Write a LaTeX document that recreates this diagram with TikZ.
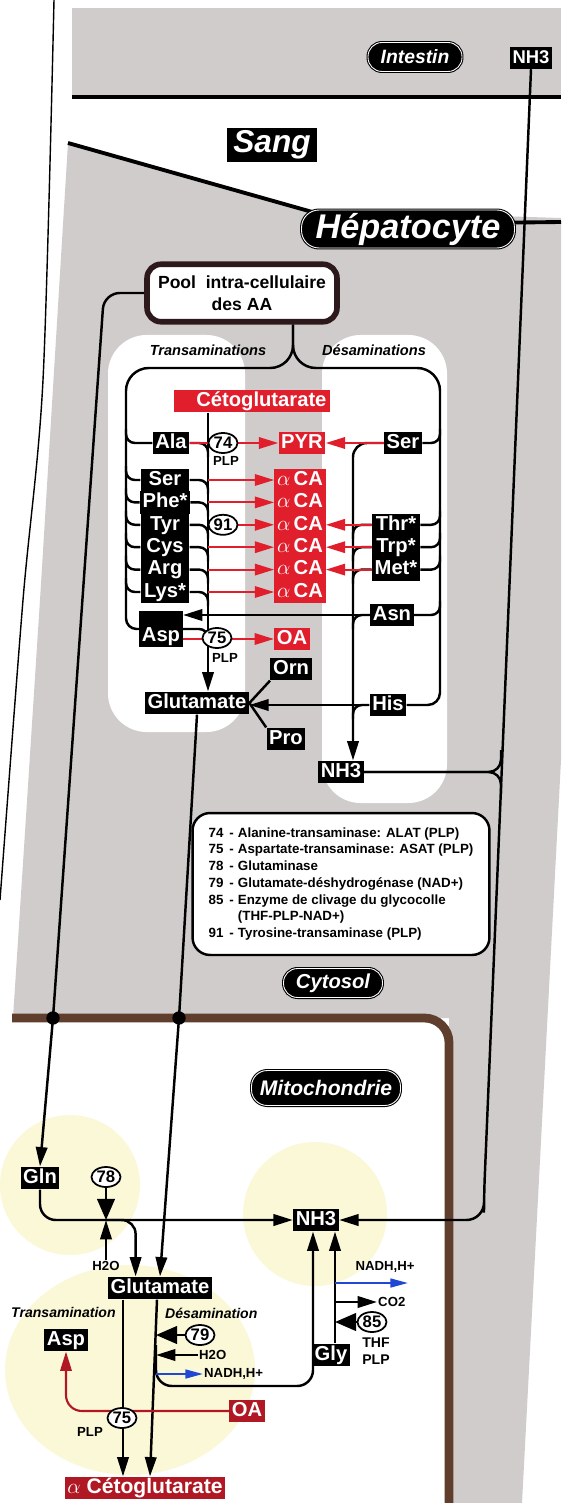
\documentclass[tikz,border=0pt]{standalone}
\usepackage{fontspec}
\setmainfont{Liberation Sans}
\usepackage{xcolor}
\usepackage{amsmath}
\usepackage{amssymb}
\usepackage{tikz}
\usetikzlibrary{arrows.meta, positioning, shapes, calc}

\definecolor{fondgris}{RGB}{209,204,204}
\definecolor{rougeaa}{RGB}{224,30,44}
\definecolor{rougemito}{RGB}{176,24,36}
\definecolor{brunmemb}{RGB}{96,62,46}
\definecolor{brunpool}{RGB}{45,25,28}
\definecolor{jaunemito}{RGB}{251,248,216}
\definecolor{bleunadh}{RGB}{32,72,212}

\begin{document}
\begin{tikzpicture}[x=0.02cm, y=-0.02cm,
    aa/.style={fill=black, text=white, font=\fontsize{11.5}{12}\selectfont\bfseries, inner xsep=1.5pt, inner ysep=0.8pt, text height=8.4pt, text depth=2.4pt, minimum height=0.45cm},
    ca/.style={aa, fill=rougeaa},
    cam/.style={aa, fill=rougemito},
    pill/.style={fill=black, draw=black, double=white, double distance=0.5pt, line width=0.6pt, rounded corners=8pt, text=white, inner sep=0pt},
    enz/.style={ellipse, draw, fill=white, line width=1pt, minimum width=0.58cm, minimum height=0.4cm, inner sep=0pt, font=\fontsize{9.5}{10}\selectfont\bfseries},
    lab/.style={inner sep=0.5pt, font=\fontsize{7.5}{8}\selectfont\bfseries},
    titre/.style={inner sep=0.5pt, font=\fontsize{8.3}{9}\selectfont\bfseries\itshape},
    trait/.style={line width=1.4pt},
    fl/.style={trait, -{Triangle[length=11pt, width=6.5pt]}},
    flr/.style={line width=1.2pt, draw=rougeaa, -{Triangle[length=11pt, width=6.5pt]}},
    flrm/.style={flr, draw=rougemito},
    flb/.style={line width=1.2pt, draw=bleunadh, -{Triangle[length=10pt, width=5pt]}},
    enzfl/.style={trait, -{Triangle[length=12pt, width=10pt]}},
    memb/.style={line width=2.2pt}]

    \useasboundingbox (0,0) rectangle (561,1503);
    \fill[white] (0,0) rectangle (561,1503);
    \fill[fondgris] (72,8) rectangle (561,97);
    \fill[fondgris] (68,143) -- (304,210) -- (561,218) -- (561,760) -- (522,1503) -- (449,1503) -- (449,1018) -- (13,1018) -- (40,600) -- cycle;
    \draw[line width=0.8pt] plot[smooth] coordinates {(54,0) (43,380) (23,600) (0,900)};
    \draw[memb] (72,97) -- (561,97);
    \draw[memb] (68,143) -- (330,217);
    \draw[memb] (480,223) -- (561,222);
    \fill[white, rounded corners=22pt] (108,335) rectangle (245,732);
    \fill[white, rounded corners=22pt] (322,335) rectangle (447,803);
    \fill[jaunemito] (70,1185) circle (1.4cm);
    \fill[jaunemito] (130,1370) ellipse (2.5cm and 2.1cm);
    \fill[jaunemito] (315,1214) circle (1.44cm);
    \draw[brunmemb, line width=5pt, rounded corners=14pt] (12,1018) -| (449,1503);

    \node[pill, minimum width=1.88cm, minimum height=0.58cm, font=\fontsize{11}{12}\selectfont\bfseries\itshape] (intestin) at (415,57) {Intestin};
    \node[aa, minimum height=0.4cm, font=\fontsize{10.5}{11}\selectfont\bfseries] (nh3t) at (531,58) {NH3};
    \node[fill=black, text=white, minimum width=1.8cm, minimum height=0.68cm, inner sep=0pt, font=\fontsize{18}{20}\selectfont\bfseries\itshape] (sang) at (272,145) {Sang};
    \node[pill, rounded corners=10pt, minimum width=4.26cm, minimum height=0.76cm, font=\fontsize{19.5}{22}\selectfont\bfseries\itshape] (hepato) at (408,229) {Hépatocyte};
    \node[draw=brunpool, line width=3.2pt, rounded corners=8pt, fill=white, minimum width=3.8cm, minimum height=1.15cm, align=center, font=\fontsize{10}{12.5}\selectfont\bfseries] (pool) at (242,293) {Pool\ \ intra-cellulaire\\des AA};
    \node[titre] (ttrans) at (208,350) {Transaminations};
    \node[titre] (tdesam) at (374,350) {Désaminations};

    \node[ca, minimum width=3.14cm, text width=2.98cm, align=right] (ceto) at (252,401) {Cétoglutarate};
    \node[aa] (ala) at (171,443) {Ala};
    \node[ca] (pyr) at (302,443) {PYR};
    \node[aa] (sr) at (403,443) {Ser};
    \foreach \n/\lab/\y in {b1/Ser/480, b2/Phe*/502.4, b3/Tyr/524.8, b4/Cys/547.2, b5/Arg/569.6, b6/Lys*/592} {
        \node[aa, minimum width=0.97cm] (\n) at (165,\y) {\lab};
        \node[ca, minimum width=1cm] (c\n) at (300,\y) {$\alpha$\,CA};
    }
    \foreach \n/\lab/\y in {r1/Thr*/524.8, r2/Trp*/547.2, r3/Met*/569.6}
        \node[aa, minimum width=0.96cm] (\n) at (396,\y) {\lab};
    \node[aa] (asn) at (392,615) {Asn};
    \node[aa, text height=17pt] (asp) at (161,629) {Asp};
    \node[ca] (oa) at (292,639) {OA};
    \node[aa] (orn) at (291,669) {Orn};
    \node[aa] (gluc) at (197,703) {Glutamate};
    \node[aa] (his) at (388,705) {His};
    \node[aa] (pro) at (286,739) {Pro};
    \node[aa] (nh3c) at (341,772) {NH3};

    \coordinate (fk) at ($(pool.south)+(51,0)$);
    \coordinate (lbT) at (126,368);
    \coordinate (lbB) at (126,600);
    \coordinate (rbT) at (440,368);
    \coordinate (rbB) at (440,680);
    \coordinate (cl) at (208,412);
    \coordinate (irl) at (353,443);
    \coordinate (gl1) at (104,293);
    \coordinate (dot1) at (53,1018);
    \coordinate (dot2) at (179,1018);
    \coordinate (nvb) at (484,1195);
    \coordinate (jn) at (501,772);

    \draw[trait, rounded corners=13pt] (fk) |- (lbT) -- (lbB);
    \draw[trait, rounded corners=6pt] (lbB) |- (asp.west);
    \draw[trait, rounded corners=13pt] (fk) |- (rbT) -- (rbB);
    \draw[trait, rounded corners=7pt] (rbB) |- (his.east);
    \foreach \n in {ala,b1,b2,b3,b4,b5,b6}
        \draw[trait, rounded corners=5pt] ($(\n.west -| lbT)+(0,-14)$) |- (\n.west);
    \foreach \n in {ala,b1,b2,b3,b4,b5,b6,asp}
        \draw[trait, rounded corners=5pt] (\n.east) -| ($(\n.east -| cl)+(0,14)$);
    \foreach \n in {sr,r1,r2,r3,asn}
        \draw[trait, rounded corners=5pt] ($(\n.east -| rbT)+(0,-14)$) |- (\n.east);
    \foreach \n in {r1,r2,r3,asn,his}
        \draw[trait, rounded corners=5pt] (\n.west) -| ($(\n.west -| irl)+(0,14)$);
    \draw[fl] (ceto.south -| cl) -- (gluc.north -| cl);
    \draw[fl, rounded corners=8pt] (sr.west) -| (nh3c.north -| irl);
    \draw[fl] (asn.west) -- (asn.west -| asp.east);
    \draw[fl] (his.west) -- (his.west -| gluc.east);
    \draw[trait] (orn.south west) -- (gluc.east);
    \draw[trait] (pro.north west) -- (gluc.east);
    \draw[flr] (ala.east) -- (pyr.west);
    \draw[flr] (sr.west) -- (pyr.east);
    \foreach \n in {b1,b2,b3,b4,b5,b6}
        \draw[flr] (\n.east -| cl) -- (c\n.west);
    \foreach \n/\cb in {r1/b3, r2/b4, r3/b5}
        \draw[flr] (\n.west) -- (c\cb.east);
    \draw[flr] (oa.west -| asp.east) -- (oa.west);
    \draw[trait, rounded corners=7pt] (nh3c.east) -| ($(jn)+(0,-22)$);
    \draw[trait, rounded corners=7pt] (nh3c.east) -| ($(jn)+(0,22)$);

    \node[enz] (e74) at (223,443) {74};
    \node[lab] (plp74) at (226,461) {PLP};
    \node[enz] (e91) at (223,524.8) {91};
    \node[enz] (e75) at (217,638) {75};
    \node[lab] (plp75) at (225,658) {PLP};

    \node[draw, line width=1.4pt, rounded corners=10pt, fill=white, minimum width=5.94cm, minimum height=2.84cm, font=\fontsize{7.6}{9.5}\selectfont\bfseries] (legende) at (341,884) {%
        \begin{tabular}{@{}l@{\hspace{0.45em}}l@{\hspace{0.3em}}l@{}}
        74 & - & Alanine-transaminase: ALAT (PLP)\\
        75 & - & Aspartate-transaminase: ASAT (PLP)\\
        78 & - & Glutaminase\\
        79 & - & Glutamate-déshydrogénase (NAD+)\\
        85 & - & Enzyme de clivage du glycocolle\\
           &   & (THF-PLP-NAD+)\\
        91 & - & Tyrosine-transaminase (PLP)
        \end{tabular}};
    \node[pill, minimum width=1.98cm, minimum height=0.58cm, font=\fontsize{11.5}{12}\selectfont\bfseries\itshape] (cytosol) at (333,983) {Cytosol};
    \node[pill, rounded corners=9pt, minimum width=2.98cm, minimum height=0.7cm, font=\fontsize{12}{13}\selectfont\bfseries\itshape] (mito) at (326,1088) {Mitochondrie};

    \node[aa] (gln) at (40,1178) {Gln};
    \node[enz] (e78) at (106,1177) {78};
    \node[lab] (h2oa) at (106,1266) {H2O};
    \node[aa] (nh3m) at (316,1220) {NH3};
    \node[aa] (glum) at (160,1288) {Glutamate};
    \node[titre, anchor=west, font=\fontsize{8}{9}\selectfont\bfseries\itshape] (ttrm) at (10,1312) {Transamination};
    \node[titre, anchor=west, font=\fontsize{8}{9}\selectfont\bfseries\itshape] (tdsm) at (164,1313) {Désamination};
    \node[aa] (aspm) at (66,1340) {Asp};
    \node[enz] (e79) at (200,1335) {79};
    \node[lab, anchor=west] (h2ob) at (198,1355) {H2O};
    \node[lab, anchor=west] (nadha) at (203,1374) {NADH,H+};
    \node[aa] (gly) at (331,1355) {Gly};
    \node[lab] (nadhb) at (385,1267) {NADH,H+};
    \node[lab, anchor=west] (co2) at (377,1302) {CO2};
    \node[lab, align=left, font=\fontsize{8}{9.5}\selectfont\bfseries] (thf) at (376,1351) {THF\\PLP};
    \node[cam] (oam) at (247,1411) {OA};
    \node[cam, font=\fontsize{12}{13}\selectfont\bfseries] (aceto) at (145,1488) {$\alpha$ Cétoglutarate};

    \coordinate (b78) at (e78.south |- nh3m.west);
    \coordinate (dsA) at (156,1345);
    \coordinate (dsB) at (313,1386);
    \coordinate (glx) at (335,1300);
    \coordinate (nadhtip) at (408,1283);

    \draw[fl, rounded corners=9pt] (pool.west) -- (gl1) -- (dot1) -- (gln.north);
    \draw[fl] (gluc.south) -- (dot2) -- (glum.north);
    \fill (dot1) circle (3.8pt);
    \fill (dot2) circle (3.8pt);
    \draw[fl, rounded corners=10pt] (nh3t.south) -- (nvb) |- (nh3m.east);
    \draw[fl, rounded corners=9pt] (gln.south) |- (nh3m.west);
    \draw[enzfl] (e78.south) -- (b78);
    \draw[fl] (h2oa.north) -- (h2oa.north |- nh3m.west);
    \draw[fl, rounded corners=8pt] (b78) -| ($(glum.north west)+(28,0)$);
    \draw[fl] ($(glum.south)+(-37,0)$) -- ($(aceto.north)+(-22,0)$);
    \draw[fl] ($(glum.south)+(-3,0)$) -- ($(aceto.north)+(5,0)$);
    \draw[fl, rounded corners=9pt] (dsA) |- (dsB) -- (nh3m.south -| dsB);
    \draw[enzfl] (e79.west) -- (e79.west -| dsA);
    \draw[fl] (h2ob.west) -- (h2ob.west -| dsA);
    \draw[flb] (nadha.west -| dsA) -- (nadha.west);
    \draw[fl] (gly.north -| glx) -- (nh3m.south -| glx);
    \draw[flb] (nadhtip -| glx) -- (nadhtip);
    \draw[fl] (co2.west -| glx) -- (co2.west);
    \node[enz] (e85) at (372,1322) {85};
    \draw[enzfl] (e85.west) -- (e85.west -| glx);
    \draw[flrm, rounded corners=9pt] (oam.west) -| (aspm.south);
    \node[enz] (e75m) at (122,1418) {75};
    \node[lab] (plpm) at (90,1432) {PLP};
\end{tikzpicture}
\end{document}
